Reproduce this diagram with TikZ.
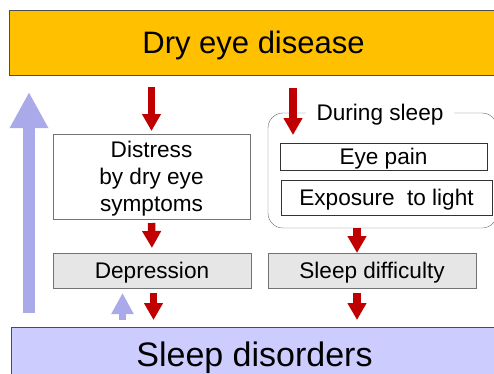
\documentclass[tikz,border=0pt]{standalone}
\usepackage{fontspec}
\setmainfont{Liberation Sans}
\usetikzlibrary{arrows.meta, positioning}

\definecolor{dryorange}{HTML}{FFC000}
\definecolor{sleepblue}{HTML}{CCCCFF}
\definecolor{upblue}{HTML}{AAAAEA}
\definecolor{downred}{HTML}{C00000}
\definecolor{boxgray}{HTML}{E6E6E6}

\begin{document}
\begin{tikzpicture}[x=1pt, y=-1pt,
    banner/.style={draw=black!70, inner sep=0pt, outer sep=0pt, text depth=0pt},
    factor/.style={draw=black!55, inner sep=0pt, outer sep=0pt, align=center, text depth=0pt,
        font=\fontsize{22.6}{27}\selectfont},
    redarrow/.style={downred, line width=7.5pt, -{Triangle[length=17pt, width=18pt]}},
    bluearrow/.style={upblue, line width=#1, -{Triangle[length=3*#1, width=3*#1]}}]

    % Page frame
    \clip (0, 0) rectangle (494, 373);

    % Cause and outcome banners
    \node[banner, fill=dryorange, minimum width=489, minimum height=65,
        font=\fontsize{31}{36}\selectfont] (dryeye) at (253.5, 42.5) {Dry eye disease};
    \node[banner, fill=sleepblue, minimum width=487, minimum height=54,
        font=\fontsize{34}{40}\selectfont] (sleepdis) at (254.5, 354) {Sleep disorders};

    % Left path
    \node[factor, fill=white, minimum width=197, minimum height=85] (distress) at (151.5, 176.5)
        {Distress\\by dry eye\\symptoms};
    \node[factor, fill=boxgray, minimum width=198, minimum height=35] (depression)
        at (152, 270.5) {Depression};

    % Right path: during sleep group
    \draw[black!60, rounded corners=15pt] (268, 113) rectangle (497, 228);
    \node[fill=white, inner xsep=11pt, inner ysep=3pt, text depth=0pt, font=\fontsize{22.6}{27}\selectfont]
        (during) at (380, 112) {During sleep};
    \node[factor, draw=black!80, fill=white, minimum width=207, minimum height=27]
        (eyepain) at (383.5, 156.5) {Eye pain};
    \node[factor, draw=black!80, fill=white, minimum width=211, minimum height=35]
        (exposure) at (386.5, 197.5) {Exposure\hspace{6pt} to light};
    \coordinate (groupbot) at (357, 228);
    \node[factor, fill=boxgray, minimum width=208, minimum height=35] (sleepdiff)
        at (372, 270.5) {Sleep difficulty};

    % Red arrows (downward effects)
    \draw[redarrow, shorten <=12pt, shorten >=3pt] (dryeye.south -| distress.north) -- (distress.north);
    \draw[redarrow, shorten <=4pt, shorten >=5pt] (distress.south) -- (depression.north);
    \draw[redarrow, shorten <=5pt, shorten >=7pt] ([xshift=1.5pt]depression.south) -- ([xshift=1.5pt]depression.south |- sleepdis.north);
    \draw[redarrow, shorten <=13pt, shorten >=8pt] (dryeye.south -| 293, 0) -- (eyepain.north -| 293, 0);
    \draw[redarrow, shorten >=0pt] (groupbot) -- (sleepdiff.north -| groupbot);
    \draw[redarrow, shorten <=5pt, shorten >=7pt] (sleepdiff.south -| groupbot) -- (sleepdis.north -| groupbot);

    % Blue arrows (feedback)
    \draw[bluearrow=12pt, shorten <=14pt, shorten >=17pt] (sleepdis.north -| 29, 0) -- (dryeye.south -| 29, 0);
    \draw[bluearrow=7pt, shorten <=7pt, shorten >=5pt] (sleepdis.north -| 122.5, 0) -- (depression.south -| 122.5, 0);

\end{tikzpicture}
\end{document}
